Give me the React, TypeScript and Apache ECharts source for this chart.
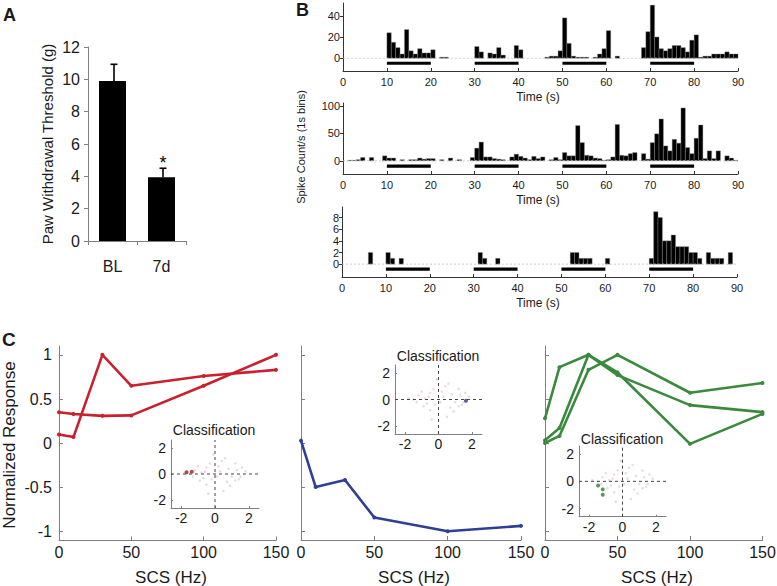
import React, { useEffect, useRef } from 'react';
import * as echarts from 'echarts';

const FONT = '"Liberation Sans", Arial, Helvetica, sans-serif';

// ---------- Panel A ----------
const groupsA = ['BL', '7d'];
const thresholdMean = [9.9, 3.95];
const thresholdErr = [1.03, 0.55];
const sigMarks = ['', '*'];
const thresholdTicks = [0, 12, 2];

// ---------- Panel B ----------
const stimStart = [10, 30, 50, 70];
const stimEnd = [20, 40, 60, 80];
const stimLevel = [-4.7, -9.6, -0.86];
const histTop = [
  0, 0, 0, 0, 0, 0, 0, 0, 0, 0,
  24, 15, 10, 4, 27, 7, 4, 9, 5, 5,
  8, 0, 1, 1, 0, 0, 0, 0, 0, 0,
  11, 6, 0, 5, 4, 10, 3, 0, 0, 12,
  8, 0, 0, 0, 0, 0, 1, 2, 2, 7,
  38, 14, 2, 1, 1, 1, 0, 1, 4, 9,
  26, 0, 2, 0, 0, 0, 0, 0, 10, 25,
  50, 20, 9, 7, 9, 12, 12, 10, 6, 17,
  22, 1, 2, 2, 4, 4, 4, 6, 4, 4,
];
const histMid = [
  0, 1, 1, 2, 6, 0, 6, 0, 0, 9,
  5, 5, 0, 2, 0, 2, 2, 5, 3, 4,
  4, 0, 2, 0, 5, 0, 2, 0, 0, 6,
  23, 34, 7, 7, 4, 3, 2, 0, 7, 12,
  8, 5, 2, 8, 4, 7, 0, 2, 6, 2,
  15, 9, 9, 64, 33, 10, 9, 5, 4, 1,
  2, 7, 66, 10, 9, 13, 15, 0, 13, 3,
  33, 49, 76, 27, 18, 39, 32, 96, 24, 13,
  41, 65, 4, 18, 4, 18, 0, 9, 5, 1,
];
const histBot = [
  0, 0, 0, 0, 0, 0, 2, 0, 0, 0,
  2, 1, 0, 1, 0, 0, 0, 0, 0, 0,
  0, 0, 0, 0, 0, 0, 0, 0, 0, 0,
  0, 2, 1, 0, 0, 1, 0, 0, 0, 0,
  0, 0, 0, 0, 0, 0, 0, 0, 0, 0,
  0, 0, 2, 2, 1, 1, 1, 0, 0, 0,
  1, 0, 0, 0, 0, 0, 0, 0, 0, 0,
  1, 9, 8, 4, 4, 5, 3, 3, 3, 2,
  2, 1, 0, 2, 1, 1, 1, 0, 2, 0,
];
const yRangeB = [[-12, 52], [-24, 105], [-2.2, 9.8]];
const yTicksB = [[0, 20, 40], [0, 50, 100], [0, 2, 4, 6, 8]];

// ---------- Panel C ----------
const scsHz = [0, 10, 30, 50, 100, 150];
const redA = [0.1, 0.07, 1.0, 0.65, 0.76, 0.83];
const redB = [0.35, 0.33, 0.31, 0.315, 0.65, 1.0];
const blueA = [0.027, -0.5, -0.42, -0.845, -1.0, -0.94];
const greenA = [0.28, 0.86, 1.0, 0.77, 0.43, 0.35];
const greenB = [0.0, 0.08, 0.83, 1.0, 0.57, 0.68];
const greenC = [0.03, 0.17, 1.0, 0.8, -0.01, 0.33];
const normTicks = [-1, -0.5, 0, 0.5, 1];
const classTicks = [-2, 0, 2];
const cloudPink = [[-1.2, 0.3], [-1.0, 0.6], [-0.8, 0.1], [-0.6, 0.2], [-0.5, 0.5], [-0.3, 0.8], [0.2, 0.6], [0.4, 1.0], [-1.5, 0.0], [-0.9, -0.5], [0.6, 1.2], [-0.2, -0.4], [1.3, 0.3], [-1.8, 0.1]];
const cloudGray = [[0.8, 0.4], [1.2, 0.8], [1.5, -0.2], [1.4, -0.4], [1.2, -0.5], [1.0, -0.2], [0.9, -0.9], [0.5, -1.3], [-0.5, -0.8], [-1.3, -0.2], [1.8, 0.2], [0.1, -0.2], [0.3, 0.2], [-0.1, 1.5], [0.7, -0.6], [-0.7, -0.3], [1.6, 0.5], [-0.4, -1.5]];
const hlRed = [[-1.68, 0.13], [-1.37, 0.18]];
const hlBlue = [[1.64, -0.1]];
const hlGreen = [[-1.46, -0.3], [-1.18, -0.59], [-1.18, -0.98]];

const RED = '#c8202c';
const BLUE = '#2f3f98';
const GREEN = '#3a8a3e';
const AXIS_GRAY = '#808080';

const grid = (left: number, top: number, width: number, height: number) => ({
  left, top, width, height, containLabel: false, outerBoundsMode: 'none',
});

const histItem = (params: any, api: any) => {
  const x = api.value(0);
  const v = api.value(1);
  const a = api.coord([x, 0]);
  const b = api.coord([x + 1, v]);
  return {
    type: 'rect',
    shape: { x: a[0], y: b[1], width: b[0] - a[0], height: a[1] - b[1] },
    style: { fill: '#000', stroke: '#8a8a8a', lineWidth: 0.4 },
  };
};

const stimItem = (params: any, api: any) => {
  const a = api.coord([api.value(0), api.value(2)]);
  const b = api.coord([api.value(1), api.value(2)]);
  return {
    type: 'rect',
    shape: { x: a[0], y: a[1] - 1.6, width: b[0] - a[0], height: 3.2 },
    style: { fill: '#000' },
  };
};

const errItem = (params: any, api: any) => {
  const i = api.value(0);
  const base = api.coord([i, api.value(1)]);
  const top = api.coord([i, api.value(2)]);
  const cx = top[0] + 1.5;
  const children: any[] = [
    { type: 'line', shape: { x1: cx, y1: base[1], x2: cx, y2: top[1] }, style: { stroke: '#000', lineWidth: 1.6 } },
    { type: 'line', shape: { x1: cx - 3.5, y1: top[1], x2: cx + 3.5, y2: top[1] }, style: { stroke: '#000', lineWidth: 1.6 } },
  ];
  const s = sigMarks[params.dataIndex];
  if (s) {
    children.push({
      type: 'text', x: cx, y: top[1] - 14,
      style: { text: s, align: 'center', verticalAlign: 'top', fontSize: 18, fontFamily: FONT, fill: '#000' },
    });
  }
  return { type: 'group', children };
};

const txt = (text: string, x: number, y: number, fontSize: number, opts: any = {}) => ({
  type: 'text',
  x, y,
  rotation: opts.rotation || 0,
  style: {
    text, fontSize, fontFamily: FONT, fill: '#1a1a1a',
    fontWeight: opts.bold ? 'bold' : 'normal',
    align: opts.align || 'center', verticalAlign: opts.vAlign || 'middle',
  },
});

function buildOption() {
  const grids = [
    grid(88, 47, 98, 194),
    grid(343, 3, 395, 68),
    grid(343, 103, 395, 71),
    grid(342, 207, 395, 70),
    grid(59, 346, 217, 194.5),
    grid(301, 346, 220, 194),
    grid(545, 346, 217.5, 194),
    grid(171, 440, 88, 68),
    grid(395, 365, 87, 69),
    grid(579, 446, 87, 70.7),
  ];

  const xAxes: any[] = [];
  const yAxes: any[] = [];

  // A
  xAxes.push({
    gridIndex: 0, type: 'category', data: groupsA,
    axisLine: { show: true, lineStyle: { color: AXIS_GRAY, width: 1 } },
    axisTick: { show: true, length: 4, lineStyle: { color: AXIS_GRAY } },
    axisLabel: { fontSize: 16, margin: 17, color: '#1a1a1a', fontFamily: FONT },
  });
  yAxes.push({
    gridIndex: 0, type: 'value', min: thresholdTicks[0], max: thresholdTicks[1], interval: thresholdTicks[2],
    axisLine: { show: true, lineStyle: { color: AXIS_GRAY, width: 1 } },
    axisTick: { show: true, length: 4, lineStyle: { color: AXIS_GRAY } },
    axisLabel: { fontSize: 16, margin: 8, color: '#1a1a1a', fontFamily: FONT },
    splitLine: { show: false },
  });

  // B
  for (let k = 0; k < 3; k++) {
    xAxes.push({
      gridIndex: 1 + k, type: 'value', min: 0, max: 90, interval: 10,
      axisLine: { show: true, onZero: false, lineStyle: { color: '#333', width: 1 } },
      axisTick: { show: true, inside: true, length: 3, lineStyle: { color: '#333' } },
      axisLabel: { fontSize: 11, margin: 5, color: '#1a1a1a', fontFamily: FONT },
      splitLine: { show: false },
    });
    yAxes.push({
      gridIndex: 1 + k, type: 'value', min: yRangeB[k][0], max: yRangeB[k][1],
      axisLine: { show: true, onZero: false, lineStyle: { color: '#333', width: 1 } },
      axisTick: { show: true, length: 3, customValues: yTicksB[k], lineStyle: { color: '#333' } },
      axisLabel: { fontSize: 11, margin: 3, color: '#1a1a1a', fontFamily: FONT, customValues: yTicksB[k] },
      splitLine: { show: false },
    });
  }

  // C
  for (let k = 0; k < 3; k++) {
    xAxes.push({
      gridIndex: 4 + k, type: 'value', min: 0, max: 150, interval: 50,
      axisLine: { show: true, onZero: false, lineStyle: { color: AXIS_GRAY, width: 1 } },
      axisTick: { show: true, inside: true, length: 4, lineStyle: { color: AXIS_GRAY } },
      axisLabel: { fontSize: 16, margin: 4, color: '#1a1a1a', fontFamily: FONT },
      splitLine: { show: false },
    });
    yAxes.push({
      gridIndex: 4 + k, type: 'value', min: -1.1, max: 1.1,
      axisLine: { show: true, onZero: false, lineStyle: { color: AXIS_GRAY, width: 1 } },
      axisTick: { show: true, inside: true, length: 4, customValues: normTicks, lineStyle: { color: AXIS_GRAY } },
      axisLabel: { show: k === 0, fontSize: 16, margin: 7, color: '#1a1a1a', fontFamily: FONT, customValues: normTicks },
      splitLine: { show: false },
    });
  }

  // insets
  for (let k = 0; k < 3; k++) {
    const base = {
      gridIndex: 7 + k, type: 'value', min: -2.6, max: 2.6,
      axisLine: { show: true, onZero: false, lineStyle: { color: AXIS_GRAY, width: 1 } },
      axisTick: { show: true, inside: true, length: 2, customValues: classTicks, lineStyle: { color: AXIS_GRAY } },
      axisLabel: { fontSize: 14, margin: 3, color: '#1a1a1a', fontFamily: FONT, customValues: classTicks },
      splitLine: { show: false },
    };
    xAxes.push({ ...base });
    yAxes.push({ ...base, axisLabel: { ...base.axisLabel, margin: 5 } });
  }

  const series: any[] = [];
  // A
  series.push({ type: 'bar', xAxisIndex: 0, yAxisIndex: 0, data: thresholdMean, barWidth: 27, itemStyle: { color: '#000' } });
  series.push({
    type: 'custom', xAxisIndex: 0, yAxisIndex: 0, z: 5,
    data: thresholdMean.map((m, i) => [i, m, m + thresholdErr[i]]),
    renderItem: errItem,
  });

  // B
  const hists = [histTop, histMid, histBot];
  for (let k = 0; k < 3; k++) {
    series.push({
      type: 'line', xAxisIndex: 1 + k, yAxisIndex: 1 + k, data: [[0, 0], [90, 0]], symbol: 'none', silent: true,
      lineStyle: { color: '#c4c4c4', width: 0.8, type: [2, 2] },
    });
    series.push({
      type: 'custom', xAxisIndex: 1 + k, yAxisIndex: 1 + k,
      data: hists[k].map((v, i) => [i, v]).filter((d) => d[1] > 0),
      renderItem: histItem,
    });
    series.push({
      type: 'custom', xAxisIndex: 1 + k, yAxisIndex: 1 + k,
      data: stimStart.map((s, i) => [s, stimEnd[i], stimLevel[k]]),
      renderItem: stimItem,
    });
  }

  // C
  const lineSeries = (idx: number, ys: number[], color: string) => ({
    type: 'line', xAxisIndex: idx, yAxisIndex: idx,
    data: scsHz.map((x, i) => [x, ys[i]]),
    symbol: 'circle', symbolSize: 4,
    lineStyle: { color, width: 2.6 }, itemStyle: { color },
  });
  series.push(lineSeries(4, redA, RED));
  series.push(lineSeries(4, redB, RED));
  series.push(lineSeries(5, blueA, BLUE));
  series.push(lineSeries(6, greenA, GREEN));
  series.push(lineSeries(6, greenB, GREEN));
  series.push(lineSeries(6, greenC, GREEN));

  // insets
  const hls = [[hlRed, '#9e1a22'], [hlBlue, '#283a8c'], [hlGreen, '#2f7a33']];
  for (let k = 0; k < 3; k++) {
    const idx = 7 + k;
    const dash = { color: '#444', width: 1, type: [3, 3] };
    series.push({ type: 'line', xAxisIndex: idx, yAxisIndex: idx, data: [[0, -2.6], [0, 2.6]], symbol: 'none', lineStyle: dash, silent: true });
    series.push({ type: 'line', xAxisIndex: idx, yAxisIndex: idx, data: [[-2.6, 0], [2.6, 0]], symbol: 'none', lineStyle: dash, silent: true });
    series.push({ type: 'scatter', xAxisIndex: idx, yAxisIndex: idx, data: cloudPink, symbolSize: 2.5, itemStyle: { color: '#f2ccd3' } });
    series.push({ type: 'scatter', xAxisIndex: idx, yAxisIndex: idx, data: cloudGray, symbolSize: 2.5, itemStyle: { color: '#d6d6d6' } });
    series.push({ type: 'scatter', xAxisIndex: idx, yAxisIndex: idx, data: hls[k][0], symbolSize: 4, itemStyle: { color: hls[k][1] } });
  }

  const graphic = [
    txt('A', 3, 6, 18, { bold: true, align: 'left', vAlign: 'top' }),
    txt('B', 296, 1, 18, { bold: true, align: 'left', vAlign: 'top' }),
    txt('C', 2, 330, 19, { bold: true, align: 'left', vAlign: 'top' }),
    txt('Paw Withdrawal Threshold (g)', 47, 144, 15, { rotation: Math.PI / 2 }),
    txt('Spike Count/s (1s bins)', 301, 147, 11, { rotation: Math.PI / 2 }),
    txt('Time (s)', 538, 97, 12),
    txt('Time (s)', 538, 200, 12),
    txt('Time (s)', 538, 303, 12),
    txt('Normalized Response', 9, 445, 17, { rotation: Math.PI / 2 }),
    txt('SCS (Hz)', 171, 577, 17),
    txt('SCS (Hz)', 414, 577, 17),
    txt('SCS (Hz)', 657, 577, 17),
    txt('Classification', 214, 430, 14),
    txt('Classification', 438, 356, 14),
    txt('Classification', 622, 439, 14),
  ];

  return {
    animation: false,
    backgroundColor: '#fff',
    textStyle: { fontFamily: FONT },
    grid: grids,
    xAxis: xAxes,
    yAxis: yAxes,
    series,
    graphic,
  };
}

export default function App() {
  const ref = useRef<HTMLDivElement>(null);
  useEffect(() => {
    if (!ref.current) return;
    const chart = echarts.init(ref.current, undefined, { renderer: 'svg' });
    chart.setOption(buildOption() as any);
    return () => chart.dispose();
  }, []);
  return (
    <div
      ref={ref}
      style={{ position: 'absolute', left: 0, top: 0, width: 777, height: 586, background: '#fff' }}
    />
  );
}
